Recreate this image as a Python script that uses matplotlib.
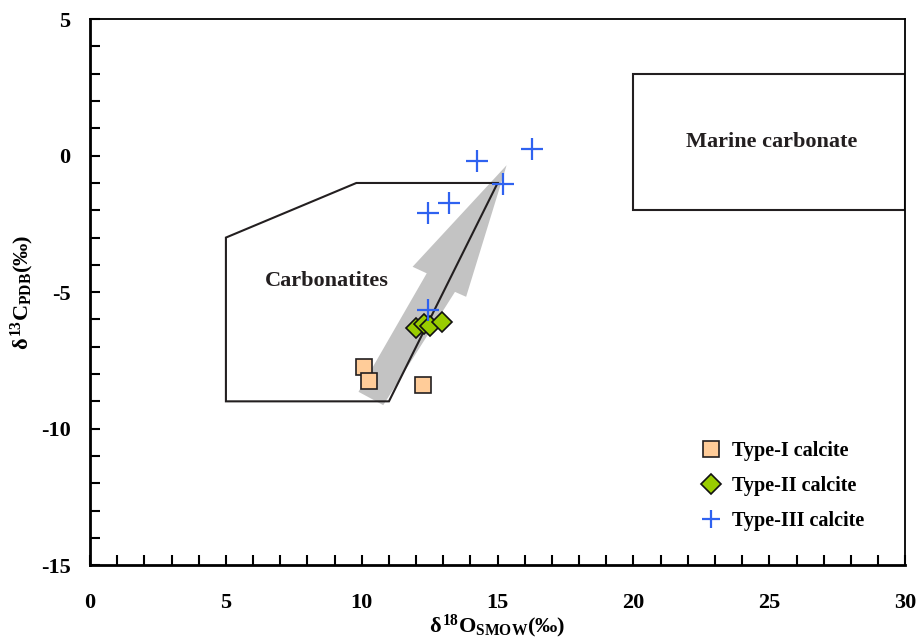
import matplotlib.pyplot as plt
from matplotlib.patches import Polygon, Rectangle
from matplotlib.ticker import MultipleLocator

# measured isotope values (d18O SMOW, d13C PDB)
type1_o = [10.1, 10.25, 12.25]
type1_c = [-7.75, -8.25, -8.4]
type2_o = [12.0, 12.3, 12.5, 12.95]
type2_c = [-6.3, -6.15, -6.25, -6.1]
type3_o = [16.25, 14.25, 15.2, 13.2, 12.45, 12.45]
type3_c = [0.25, -0.2, -1.05, -1.75, -2.1, -5.65]

# field outlines
carbonatite_o = [5.0, 9.8, 15.0, 11.0, 5.0]
carbonatite_c = [-3.0, -1.0, -1.0, -9.0, -9.0]
marine_o = [20.0, 30.0]
marine_c = [-2.0, 3.0]

# trend arrow outline
arrow_o = [9.88, 12.39, 11.87, 15.33, 13.84, 13.43, 10.79]
arrow_c = [-8.65, -4.31, -4.07, -0.35, -5.17, -4.99, -9.14]

plt.rcParams['font.family'] = ['Liberation Serif', 'DejaVu Serif']
plt.rcParams['font.weight'] = 'bold'
plt.rcParams['axes.unicode_minus'] = False
plt.rcParams['mathtext.fontset'] = 'custom'
plt.rcParams['mathtext.rm'] = 'Liberation Serif:bold'
plt.rcParams['mathtext.it'] = 'Liberation Serif:bold'
plt.rcParams['mathtext.bf'] = 'Liberation Serif:bold'

fig = plt.figure(figsize=(9.19, 6.4), dpi=100)
ax = fig.add_axes([0.098, 0.117, 0.887, 0.853])

ax.add_patch(Polygon(list(zip(arrow_o, arrow_c)), closed=True,
                     facecolor='#c3c3c3', edgecolor='none', zorder=1))
ax.add_patch(Polygon(list(zip(carbonatite_o, carbonatite_c)), closed=True,
                     facecolor='none', edgecolor='#231f20', linewidth=1.5, zorder=2))
ax.add_patch(Rectangle((marine_o[0], marine_c[0]), marine_o[1] - marine_o[0],
                       marine_c[1] - marine_c[0], facecolor='none',
                       edgecolor='#231f20', linewidth=1.5, zorder=2))

ax.plot(type1_o, type1_c, 's', ms=12, mfc='#ffcc99', mec='#231f20', mew=1.2,
        linestyle='none', label='Type-I calcite', zorder=3)
ax.plot(type2_o, type2_c, 'D', ms=10, mfc='#99cc00', mec='#111111', mew=1.2,
        linestyle='none', label='Type-II calcite', zorder=4)
ax.plot(type3_o, type3_c, '+', ms=16, mew=1.6, color='#2f62f0',
        linestyle='none', label='Type-III calcite', zorder=5)

ax.text(25.1, 0.5, 'Marine carbonate', ha='center', va='center',
        fontsize=16, fontweight='bold', color='#231f20')
ax.text(8.7, -4.6, 'Carbonatites', ha='center', va='center',
        fontsize=16, fontweight='bold', color='#231f20')

ax.set_xlim(0, 30)
ax.set_ylim(-15, 5)
ax.xaxis.set_major_locator(MultipleLocator(5))
ax.yaxis.set_major_locator(MultipleLocator(5))
ax.xaxis.set_minor_locator(MultipleLocator(1))
ax.yaxis.set_minor_locator(MultipleLocator(1))
ax.tick_params(which='both', direction='in', length=7, width=1.5,
               top=False, right=False, labelsize=16)
ax.tick_params(axis='x', pad=20)
ax.tick_params(axis='y', pad=14)

for side in ['left', 'bottom']:
    ax.spines[side].set_linewidth(2)
for side in ['top', 'right']:
    ax.spines[side].set_linewidth(1.3)

ax.set_xlabel(r'$\delta^{18}\mathrm{O}_{\mathrm{SMOW}}$(‰)', fontsize=16,
              fontweight='bold', labelpad=0)
ax.set_ylabel(r'$\delta^{13}\mathrm{C}_{\mathrm{PDB}}$(‰)', fontsize=16,
              fontweight='bold')
ax.yaxis.set_label_coords(-0.066, 0.5)

leg = ax.legend(loc='upper left', bbox_to_anchor=(0.725, 0.261), frameon=False,
                fontsize=14.5, handletextpad=0.45, labelspacing=0.75,
                handlelength=1.2)
leg.legend_handles[2].set_markersize(13)

fig.savefig('out.png', dpi=100)
